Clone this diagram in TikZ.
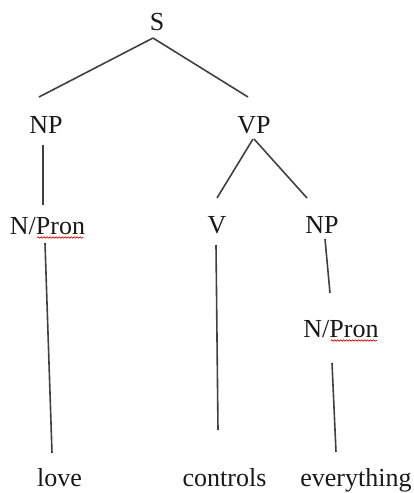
\documentclass[tikz,border=0pt]{standalone}
\usepackage{fontspec}
\setmainfont{Liberation Serif}
\newfontfamily\treefont{Liberation Serif}
\usetikzlibrary{decorations.pathmorphing}
\begin{document}
\begin{tikzpicture}[x=1pt,y=-1pt,
    lbl/.style={anchor=base,inner sep=0pt,font=\treefont\fontsize{26}{30}\selectfont,text=black!90},
    branch/.style={line width=1.6pt,color=black!75},
    squiggle/.style={red!85!black,line width=0.7pt,decorate,decoration={snake,amplitude=0.7pt,segment length=3pt}}]
    \useasboundingbox (0,0) rectangle (414,493);
    % labels of the tree
    \node[lbl] (S) at (157,30) {S};
    \node[lbl] (NPa) at (46,133) {NP};
    \node[lbl] (VP) at (254,133) {VP};
    \node[lbl] (Na) at (47.5,234) {N/Pron};
    \node[lbl] (V) at (217,233) {V};
    \node[lbl] (NPb) at (322,233) {NP};
    \node[lbl] (Nb) at (341,337) {N/Pron};
    \node[lbl] (love) at (59.5,486) {love};
    \node[lbl] (controls) at (224.5,486) {controls};
    \node[lbl] (everything) at (356,486) {everything};
    % branches
    \draw[branch] ([xshift=-4pt,yshift=-8pt]S.base) -- ([xshift=-7pt,yshift=36pt]NPa.base);
    \draw[branch] ([xshift=-4pt,yshift=-8pt]S.base) -- ([xshift=-6pt,yshift=36pt]VP.base);
    \draw[branch] ([xshift=-3pt,yshift=-12pt]NPa.base) -- ([xshift=-4.5pt,yshift=29pt]Na.base);
    \draw[branch] ([xshift=-1pt,yshift=-6pt]VP.base) -- ([xshift=0pt,yshift=35pt]V.base);
    \draw[branch] ([xshift=0pt,yshift=-6pt]VP.base) -- ([xshift=-15pt,yshift=35pt]NPb.base);
    \draw[branch] ([xshift=3pt,yshift=-6pt]NPb.base) -- ([xshift=-11pt,yshift=44pt]Nb.base);
    \draw[branch] ([xshift=-2.5pt,yshift=-9pt]Na.base) -- ([xshift=-7.5pt,yshift=33pt]love.base);
    \draw[branch] ([xshift=-1pt,yshift=-12pt]V.base) -- ([xshift=-6.5pt,yshift=56pt]controls.base);
    \draw[branch] ([xshift=-9pt,yshift=-26pt]Nb.base) -- ([xshift=-20pt,yshift=34pt]everything.base);
    % spelling marks under Pron
    \draw[squiggle] ([xshift=-48pt,yshift=-3.5pt]Na.base east) -- ([xshift=-2pt,yshift=-3.5pt]Na.base east);
    \draw[squiggle] ([xshift=-48pt,yshift=-3.5pt]Nb.base east) -- ([xshift=-2pt,yshift=-3.5pt]Nb.base east);
\end{tikzpicture}
\end{document}
